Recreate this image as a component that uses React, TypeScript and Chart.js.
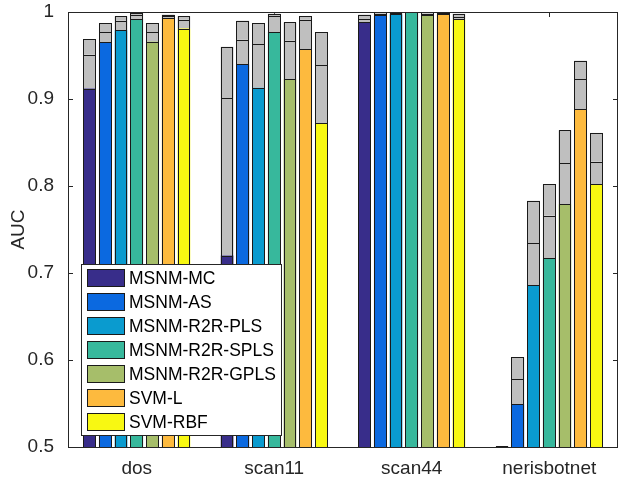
import React, { useEffect, useRef } from 'react';
import { Chart, registerables } from 'chart.js';
Chart.register(...registerables);

const categories = ['dos', 'scan11', 'scan44', 'nerisbotnet'];
const methods = ['MSNM-MC', 'MSNM-AS', 'MSNM-R2R-PLS', 'MSNM-R2R-SPLS', 'MSNM-R2R-GPLS', 'SVM-L', 'SVM-RBF'];
const methodColors = ['#382d8a', '#0b69e0', '#0a9bcf', '#37b89c', '#a6be6a', '#fdba3e', '#f8f812'];
const rangeColor = '#bfbfbf';
const yTickValues = [0.5, 0.6, 0.7, 0.8, 0.9, 1];

// per method: [dos, scan11, scan44, nerisbotnet]
const lowerAUC = [
  [0.912, 0.720, 0.988, 0.44],
  [0.965, 0.940, 0.996, 0.549],
  [0.979, 0.913, 0.9975, 0.686],
  [0.992, 0.977, 0.9995, 0.717],
  [0.966, 0.923, 0.996, 0.779],
  [0.993, 0.957, 0.9975, 0.888],
  [0.981, 0.872, 0.9915, 0.802],
];
const middleAUC = [
  [0.951, 0.901, 0.992, 0.47],
  [0.977, 0.968, 0.998, 0.578],
  [0.990, 0.963, 0.999, 0.734],
  [0.996, 0.995, 0.9998, 0.766],
  [0.977, 0.967, 0.998, 0.826],
  [0.995, 0.991, 0.999, 0.923],
  [0.991, 0.939, 0.994, 0.828],
];
const upperAUC = [
  [0.969, 0.960, 0.997, 0.501],
  [0.987, 0.990, 0.9995, 0.603],
  [0.995, 0.987, 0.9998, 0.783],
  [0.999, 0.998, 1.0, 0.802],
  [0.987, 0.988, 0.9995, 0.864],
  [0.997, 0.995, 0.9998, 0.944],
  [0.995, 0.977, 0.998, 0.861],
];

const FONT = '"Liberation Sans", Arial, Helvetica, sans-serif';
const AXIS = '#262626';

const framePlugin = {
  id: 'frame',
  beforeDatasetsDraw(chart: any) {
    const { ctx, chartArea: a, scales } = chart;
    ctx.save();
    ctx.strokeStyle = AXIS;
    ctx.lineWidth = 1;
    ctx.beginPath();
    yTickValues.forEach((v) => {
      const y = Math.round(scales.y.getPixelForValue(v)) + 0.5;
      ctx.moveTo(a.left, y); ctx.lineTo(a.left + 5, y);
      ctx.moveTo(a.right, y); ctx.lineTo(a.right - 5, y);
    });
    categories.forEach((_, i) => {
      const x = Math.round(scales.x.getPixelForValue(i)) + 0.5;
      ctx.moveTo(x, a.top); ctx.lineTo(x, a.top + 5);
      ctx.moveTo(x, a.bottom); ctx.lineTo(x, a.bottom - 5);
    });
    ctx.stroke();
    ctx.restore();
  },
  afterDatasetsDraw(chart: any) {
    const { ctx, chartArea: a } = chart;
    ctx.save();
    // bar outlines
    ctx.beginPath();
    ctx.rect(a.left, a.top - 1, a.right - a.left, a.bottom - a.top + 1);
    ctx.clip();
    ctx.strokeStyle = '#1a1a1a';
    ctx.lineWidth = 1;
    chart.data.datasets.forEach((_: any, di: number) => {
      const meta = chart.getDatasetMeta(di);
      meta.data.forEach((el: any) => {
        const p = el.getProps(['x', 'y', 'base', 'width'], true);
        const l = Math.round(p.x - p.width / 2);
        const r = Math.round(p.x + p.width / 2);
        const t = Math.round(Math.min(p.y, p.base));
        const b = Math.round(Math.max(p.y, p.base));
        if (b < a.top || t > a.bottom) return;
        ctx.strokeRect(l + 0.5, t + 0.5, r - l - 1, b - t);
      });
    });
    ctx.restore();

    ctx.save();
    ctx.strokeStyle = AXIS;
    ctx.lineWidth = 1;
    ctx.strokeRect(a.left + 0.5, a.top + 0.5, a.right - a.left - 1, a.bottom - a.top);
    // legend
    const lx = 81, ly = 264, lw = 200, lh = 171;
    ctx.fillStyle = '#ffffff';
    ctx.fillRect(lx, ly, lw, lh);
    ctx.strokeStyle = '#262626';
    ctx.strokeRect(lx + 0.5, ly + 0.5, lw, lh);
    ctx.font = `17.5px ${FONT}`;
    ctx.textBaseline = 'middle';
    ctx.textAlign = 'left';
    methods.forEach((m, i) => {
      const sy = ly + 5 + i * 24;
      ctx.fillStyle = methodColors[i];
      ctx.fillRect(87, sy, 38, 18);
      ctx.strokeStyle = '#1a1a1a';
      ctx.strokeRect(87.5, sy + 0.5, 37, 17);
      ctx.fillStyle = '#000000';
      ctx.fillText(m, 129, sy + 10);
    });
    ctx.restore();
  },
};

export default function App() {
  const ref = useRef<HTMLCanvasElement>(null);
  useEffect(() => {
    if (!ref.current) return;
    const datasets: any[] = [];
    methods.forEach((m, i) => {
      const common = { stack: 's' + i, borderWidth: 0, categoryPercentage: 0.8, barPercentage: 0.81 };
      datasets.push({ ...common, label: m, data: lowerAUC[i], backgroundColor: methodColors[i] });
      datasets.push({ ...common, label: m + ' mid', data: middleAUC[i].map((v, j) => v - lowerAUC[i][j]), backgroundColor: rangeColor });
      datasets.push({ ...common, label: m + ' up', data: upperAUC[i].map((v, j) => v - middleAUC[i][j]), backgroundColor: rangeColor });
    });
    const chart = new Chart(ref.current, {
      type: 'bar',
      data: { labels: categories, datasets },
      options: {
        animation: false,
        responsive: false,
        layout: { padding: { top: 12, left: 0, right: 0, bottom: 0 } },
        plugins: { legend: { display: false }, tooltip: { enabled: false } },
        scales: {
          x: {
            stacked: true,
            grid: { display: false },
            border: { display: false },
            ticks: { color: AXIS, font: { family: FONT, size: 19 }, padding: 2 },
            afterFit: (s: any) => { s.height = 33; s.paddingLeft = 0; s.paddingRight = 0; },
          },
          y: {
            stacked: true,
            min: 0.5,
            max: 1,
            grid: { display: false },
            border: { display: false },
            ticks: {
              stepSize: 0.1,
              color: AXIS,
              padding: 6,
              font: { family: FONT, size: 19 },
              callback: (v: any) => (Math.abs(v - 1) < 1e-9 ? '1' : Number(v).toFixed(1)),
            },
            title: { display: true, text: 'AUC', color: AXIS, font: { family: FONT, size: 19 }, padding: { top: 7, bottom: 0 } },
            afterFit: (s: any) => { s.width = 68; s.paddingTop = 0; s.paddingBottom = 0; },
          },
        },
      },
      plugins: [framePlugin],
    });
    return () => chart.destroy();
  }, []);
  return (
    <div style={{ position: 'absolute', left: 0, top: 0, width: 618, height: 480, background: '#fff' }}>
      <canvas ref={ref} width={618} height={480} />
    </div>
  );
}
